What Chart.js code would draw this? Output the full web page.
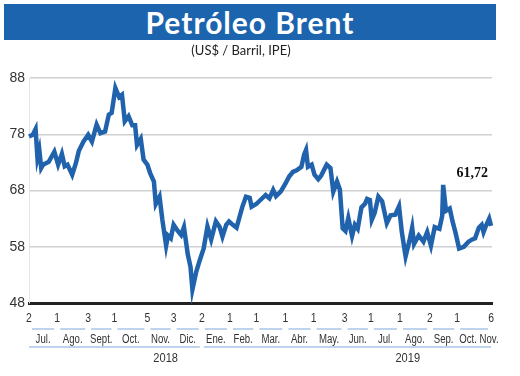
<!doctype html>
<html>
<head>
  <meta charset="utf-8">
  <script src="https://cdn.jsdelivr.net/npm/chart.js@4/dist/chart.umd.min.js"></script>
  <style>
    body { margin: 0; background: #fff; }
    #wrap { position: relative; width: 520px; height: 376px; }
    #barra { position: absolute; left: 4px; top: 4px; width: 492px; height: 36px; background: #1c64ad;
      color: #fff; font: bold 30px Lato, sans-serif; letter-spacing: 1px; text-align: center; line-height: 36px; }
    #sub { position: absolute; left: 0; top: 42px; width: 482px; text-align: center; font: 13px Lato, sans-serif; color: #222; }
    canvas { position: absolute; left: 0; top: 0; }
  </style>
</head>
<body>
<div id="wrap">
  <canvas id="c" width="520" height="376"></canvas>
  <div id="barra">Petróleo Brent</div>
  <div id="sub">(US$ / Barril, IPE)</div>
</div>
<script>
// días desde 2018-07-01
const dias = [1,5,8,10,12,14,16,22,28,32,36,39,42,47,51,54,59,64,68,73,77,82,86,89,93,97,100,103,107,111,
  114,116,120,123,127,130,134,136,140,143,147,149,152,155,159,163,166,170,173,175,179,183,187,191,195,200,
  204,207,211,214,218,222,228,232,236,238,243,248,253,257,261,264,269,274,278,282,286,291,294,296,298,302,
  305,309,312,318,322,325,329,332,335,338,341,345,348,351,355,359,361,364,366,369,373,377,382,386,391,395,
  398,402,406,409,411,416,421,425,429,433,438,441,442,445,449,452,455,459,464,469,473,476,480,483,485,488,491,493];
const precio = [77.6,77.9,78.9,73.8,75.2,72.0,72.6,73.1,74.9,72.6,74.5,72.3,72.6,70.8,72.9,75.0,76.7,77.9,76.7,79.7,
  78.2,78.5,81.5,81.8,86.2,84.6,85.0,80.3,81.2,79.6,79.6,76.1,77.2,73.5,72.6,71.1,69.6,65.6,66.9,62.8,58.2,60.0,
  59.5,61.9,60.9,60.1,61.5,56.7,54.4,50.4,53.5,55.7,57.7,61.6,59.3,62.5,61.5,59.8,61.9,62.5,61.9,61.4,65.0,66.9,
  66.7,65.1,65.6,66.4,67.2,66.6,68.1,67.0,67.8,69.2,70.5,71.3,71.6,72.2,74.4,75.2,72.2,72.6,70.8,70.0,70.6,72.6,
  72.0,67.8,69.6,68.2,61.3,60.8,63.1,59.9,61.9,61.2,65.0,65.7,66.5,66.3,62.8,64.0,66.9,66.1,62.2,63.6,63.7,65.2,
  60.6,56.3,59.0,61.4,58.5,60.0,58.9,60.6,58.2,61.5,61.2,63.5,69.0,64.4,64.8,62.5,60.6,57.7,58.0,58.9,59.3,59.5,
  61.4,61.9,60.6,61.9,63.0,61.72];

// cortes de mes (fecha del primer dato del mes) y etiquetas
const cortes = ['2018-07-02','2018-08-01','2018-09-03','2018-10-01','2018-11-05','2018-12-03','2019-01-02',
  '2019-02-01','2019-03-01','2019-04-01','2019-05-01','2019-06-03','2019-07-01','2019-08-01','2019-09-02',
  '2019-10-01','2019-11-06'];
const meses = ['Jul.','Ago.','Sept.','Oct.','Nov.','Dic.','Ene.','Feb.','Mar.','Abr.','May.','Jun.','Jul.',
  'Ago.','Sep.','Oct.','Nov.'];
const anios = ['2018','2019'];
const yTicks = [48,58,68,78,88];
const ultimo = '61,72';

const base = Date.UTC(2018,6,1);
const diaDe = s => { const p = s.split('-'); return (Date.UTC(+p[0], p[1]-1, +p[2]) - base) / 864e5; };
const FONT = "'Liberation Sans', sans-serif";

// texto estrechado horizontalmente
function texto(ctx, t, x, y, sx) {
  ctx.save();
  ctx.translate(x, y);
  ctx.scale(sx, 1);
  ctx.fillText(t, 0, 0);
  ctx.restore();
}

const ejeInferior = {
  id: 'ejeInferior',
  afterDraw(chart) {
    const ctx = chart.ctx, x = chart.scales.x;
    const px = cortes.map(c => x.getPixelForValue(diaDe(c)));
    ctx.save();
    ctx.fillStyle = '#333';
    ctx.textAlign = 'center';
    ctx.textBaseline = 'middle';
    ctx.font = '13px ' + FONT;
    cortes.forEach((c, i) => texto(ctx, String(+c.split('-')[2]), px[i], 318, 0.8));
    // subrayados de mes
    ctx.strokeStyle = '#a8c6e6';
    ctx.lineWidth = 1.5;
    for (let i = 0; i < px.length - 1; i++) {
      ctx.beginPath(); ctx.moveTo(px[i] + 3, 329); ctx.lineTo(px[i+1] - 3, 329); ctx.stroke();
    }
    ctx.font = '12px ' + FONT;
    meses.forEach((m, i) => {
      let cx = i < px.length - 1 ? (px[i] + px[i+1]) / 2 : px[i] - 2;
      if (i === px.length - 2) cx -= 6;
      texto(ctx, m, cx, 340, 0.8);
    });
    // años
    const iEne = cortes.indexOf('2019-01-02');
    const tramos = [[px[0], px[iEne] - 2], [px[iEne] + 2, px[px.length - 1]]];
    const frac = [0.8, 0.71];
    ctx.font = '13px ' + FONT;
    tramos.forEach((t, i) => {
      ctx.beginPath(); ctx.moveTo(t[0], 347); ctx.lineTo(t[1], 347); ctx.stroke();
      texto(ctx, anios[i], t[0] + (t[1] - t[0]) * frac[i], 358, 0.85);
    });
    // último valor
    ctx.font = "bold 14px 'Liberation Serif', serif";
    ctx.fillStyle = '#111';
    ctx.textAlign = 'right';
    ctx.fillText(ultimo, 488, 173);
    ctx.restore();
  }
};

new Chart(document.getElementById('c'), {
  type: 'line',
  data: {
    datasets: [{
      data: dias.map((d, i) => ({x: d, y: precio[i]})),
      borderColor: '#2063ac',
      borderWidth: 4.5,
      pointRadius: 0,
      tension: 0,
      clip: false
    }]
  },
  options: {
    responsive: false,
    animation: false,
    layout: { padding: { top: 78, right: 28, left: 0, bottom: 0 } },
    plugins: { legend: { display: false }, tooltip: { enabled: false } },
    scales: {
      x: {
        type: 'linear', min: 1, max: 494,
        ticks: { display: false },
        grid: { display: false, drawTicks: false },
        border: { color: '#222', width: 3 },
        afterFit(s) { s.height = 73; }
      },
      y: {
        min: 48, max: 88,
        afterBuildTicks(s) { s.ticks = yTicks.map(v => ({value: v})); },
        ticks: { color: '#333', padding: 4, font: { size: 14, family: "'Liberation Sans', sans-serif" } },
        grid: { color: '#d0d0d0', lineWidth: 1.5, drawTicks: false },
        border: { color: '#e4e4e4', width: 1 },
        afterFit(s) { s.width = 29; }
      }
    }
  },
  plugins: [ejeInferior]
});
</script>
</body>
</html>
